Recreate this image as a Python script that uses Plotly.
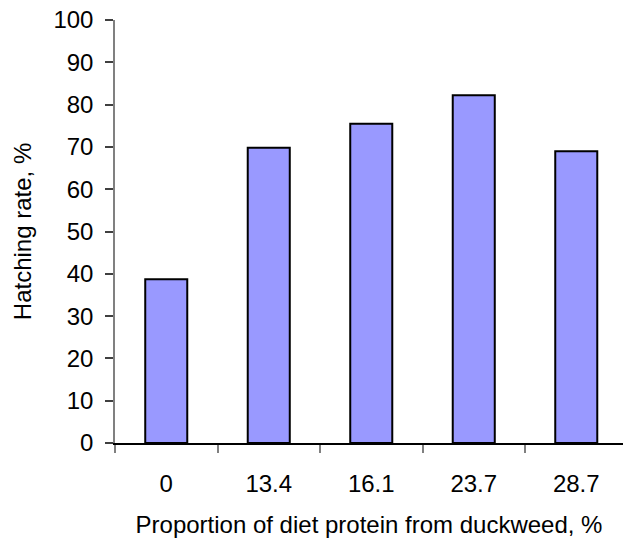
import plotly.graph_objects as go

categories = ["0", "13.4", "16.1", "23.7", "28.7"]
hatching_rate = [38.7, 69.8, 75.5, 82.2, 69.0]
y_ticks = [0, 10, 20, 30, 40, 50, 60, 70, 80, 90, 100]

fig = go.Figure(
    go.Bar(
        x=categories,
        y=hatching_rate,
        width=0.41,
        marker=dict(color="#9999FF", line=dict(color="black", width=2)),
    )
)

font = "Liberation Sans, Arial, sans-serif"
fig.update_layout(
    template="none",
    width=623,
    height=541,
    margin=dict(l=115, r=0, t=20, b=98),
    plot_bgcolor="white",
    paper_bgcolor="white",
    showlegend=False,
    font=dict(family=font, size=24, color="black"),
)
fig.update_xaxes(
    type="category",
    range=[-0.5, 4.456],
    automargin=False,
    showline=True,
    linecolor="black",
    linewidth=1.5,
    ticks="outside",
    tickson="boundaries",
    ticklen=8,
    tickcolor="#808080",
    tickwidth=1.5,
    showgrid=False,
    tickfont=dict(size=24),
    ticklabelstandoff=18,
    title=dict(text="Proportion of diet protein from duckweed, %", font=dict(size=24), standoff=21),
)
fig.update_yaxes(
    range=[0, 100],
    tickvals=y_ticks,
    automargin=False,
    ticklabeloverflow="allow",
    showline=True,
    linecolor="#808080",
    linewidth=1.5,
    ticks="outside",
    ticklen=8,
    tickcolor="#404040",
    tickwidth=1.5,
    showgrid=False,
    zeroline=False,
    tickfont=dict(size=24),
    ticklabelstandoff=7,
    title=dict(text="Hatching rate, %", font=dict(size=24), standoff=15),
)

fig.write_html(
    "out.html",
    config={"displayModeBar": False},
    post_script="document.body.style.margin='0';document.body.style.overflow='hidden';",
)
